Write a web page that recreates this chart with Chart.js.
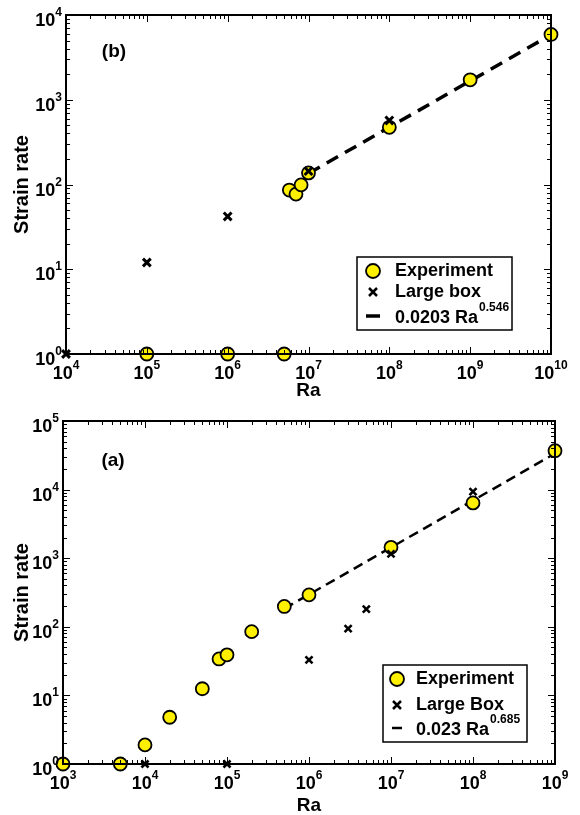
<!DOCTYPE html>
<html>
<head>
<meta charset="utf-8">
<script src="https://cdn.jsdelivr.net/npm/chart.js@4.4.0/dist/chart.umd.min.js"></script>
<style>
  body { margin: 0; background: #fff; }
  canvas { display: block; }
</style>
</head>
<body>
<canvas id="chartB" width="580" height="405"></canvas>
<canvas id="chartA" width="580" height="410"></canvas>
<script>
// panel (b)
const expRaB = [1e5, 1e6, 5e6, 5.8e6, 7.0e6, 8.1e6, 1e7, 1e8, 1e9, 1e10];
const expRateB = [1, 1, 1, 86, 77, 99, 137, 473, 1720, 5900];
const boxRaB = [1e4, 1e5, 1e6, 1e7, 1e8];
const boxRateB = [1, 12, 42, 144, 570];
const fitRaB = [1e7, 1e10];
const fitRateB = [135, 5850];

// panel (a)
const expRaA = [1e3, 5e3, 1e4, 2e4, 5e4, 8e4, 1e5, 2e5, 5e5, 1e6, 1e7, 1e8, 1e9];
const expRateA = [1, 1, 1.9, 4.8, 12.5, 34, 39, 85, 198, 292, 1440, 6400, 36900];
const boxRaA = [1e4, 1e5, 1e6, 3e6, 5e6, 1e7, 1e8];
const boxRateA = [1, 1, 33, 94, 181, 1155, 9340];
const fitRaA = [5e5, 1e9];
const fitRateA = [184, 33600];

const FONT = '"Liberation Sans", Arial, Helvetica, sans-serif';
const YELLOW = '#fff000';

const toXY = (xs, ys) => xs.map((x, i) => ({ x: x, y: ys[i] }));

function drawPow(ctx, exp, x, y, align) {
  ctx.font = 'bold 18px ' + FONT;
  const w1 = ctx.measureText('10').width;
  ctx.font = 'bold 12px ' + FONT;
  const w2 = ctx.measureText(String(exp)).width;
  const x0 = align === 'center' ? x - (w1 + w2) / 2 : x - w1 - w2;
  ctx.textAlign = 'left';
  ctx.textBaseline = 'alphabetic';
  ctx.font = 'bold 18px ' + FONT;
  ctx.fillText('10', x0, y);
  ctx.font = 'bold 12px ' + FONT;
  ctx.fillText(String(exp), x0 + w1, y - 10);
}

const framePlugin = {
  id: 'frame',
  afterDatasetsDraw(chart, args, o) {
    const { ctx, chartArea: a, scales: { x, y } } = chart;
    ctx.save();
    ctx.strokeStyle = '#000';
    ctx.fillStyle = '#000';

    // inward ticks on all four sides, drawn over the marks
    ctx.lineWidth = 1;
    ctx.beginPath();
    for (let e = Math.log10(x.min); e < Math.log10(x.max) + 0.5; e++) {
      for (let k = 1; k <= 9; k++) {
        const v = k * Math.pow(10, e);
        if (v < x.min * 0.999 || v > x.max * 1.001) continue;
        const px = Math.round(x.getPixelForValue(v)) + 0.5;
        const len = k === 1 ? 7 : 4;
        ctx.moveTo(px, a.bottom); ctx.lineTo(px, a.bottom - len);
        ctx.moveTo(px, a.top); ctx.lineTo(px, a.top + len);
      }
    }
    for (let e = Math.log10(y.min); e < Math.log10(y.max) + 0.5; e++) {
      for (let k = 1; k <= 9; k++) {
        const v = k * Math.pow(10, e);
        if (v < y.min * 0.999 || v > y.max * 1.001) continue;
        const py = Math.round(y.getPixelForValue(v)) + 0.5;
        const len = k === 1 ? 7 : 4;
        ctx.moveTo(a.left, py); ctx.lineTo(a.left + len, py);
        ctx.moveTo(a.right, py); ctx.lineTo(a.right - len, py);
      }
    }
    ctx.stroke();

    ctx.lineWidth = 2;
    ctx.strokeRect(a.left, a.top, a.width, a.height);

    // tick labels
    for (let e = Math.round(Math.log10(x.min)); e <= Math.round(Math.log10(x.max)); e++) {
      drawPow(ctx, e, x.getPixelForValue(Math.pow(10, e)), a.bottom + 25, 'center');
    }
    for (let e = Math.round(Math.log10(y.min)); e <= Math.round(Math.log10(y.max)); e++) {
      drawPow(ctx, e, a.left - 4, y.getPixelForValue(Math.pow(10, e)) + 11, 'right');
    }

    // axis titles
    ctx.font = 'bold 19px ' + FONT;
    ctx.textAlign = 'center';
    ctx.textBaseline = 'alphabetic';
    ctx.fillText('Ra', (a.left + a.right) / 2, o.raBase);
    ctx.save();
    ctx.translate(o.yTitleX, (a.top + a.bottom) / 2);
    ctx.rotate(-Math.PI / 2);
    ctx.textBaseline = 'middle';
    ctx.font = 'bold 20px ' + FONT;
    ctx.fillText('Strain rate', 0, 0);
    ctx.restore();

    // panel label
    ctx.font = 'bold 19px ' + FONT;
    ctx.textBaseline = 'middle';
    ctx.fillText(o.panel, o.panelX, o.panelY);

    // legend box
    const L = o.legend;
    ctx.fillStyle = '#fff';
    ctx.fillRect(L.x, L.y, L.w, L.h);
    ctx.lineWidth = 1.5;
    ctx.strokeRect(L.x, L.y, L.w, L.h);
    ctx.fillStyle = '#000';

    const sx = L.x + L.symX;
    const tx = L.x + L.textX;
    // circle
    ctx.beginPath();
    ctx.arc(sx, L.y + L.rows[0], 7, 0, Math.PI * 2);
    ctx.fillStyle = YELLOW; ctx.fill();
    ctx.lineWidth = 1.8; ctx.stroke();
    // cross
    const cy = L.y + L.rows[1];
    ctx.lineWidth = 2.5;
    ctx.beginPath();
    ctx.moveTo(sx - 4, cy - 4); ctx.lineTo(sx + 4, cy + 4);
    ctx.moveTo(sx + 4, cy - 4); ctx.lineTo(sx - 4, cy + 4);
    ctx.stroke();
    // dash
    const dy = L.y + L.rows[2];
    ctx.lineWidth = L.dashW;
    ctx.beginPath();
    ctx.moveTo(sx - L.dashLen / 2, dy); ctx.lineTo(sx + L.dashLen / 2, dy);
    ctx.stroke();

    ctx.fillStyle = '#000';
    ctx.font = 'bold 18px ' + FONT;
    ctx.textAlign = 'left';
    ctx.textBaseline = 'middle';
    ctx.fillText(L.labels[0], tx, L.y + L.rows[0]);
    ctx.fillText(L.labels[1], tx, L.y + L.rows[1]);
    ctx.fillText(L.labels[2], tx, L.y + L.rows[2] + 2);
    const w = ctx.measureText(L.labels[2]).width;
    ctx.font = 'bold 12px ' + FONT;
    ctx.fillText(L.sup, tx + w + 1, L.y + L.rows[2] - 8);

    ctx.restore();
  }
};

function makeChart(id, c) {
  const canvas = document.getElementById(id);
  return new Chart(canvas, {
    type: 'scatter',
    data: {
      datasets: [
        {
          label: c.legend.labels[1],
          data: toXY(c.boxRa, c.boxRate),
          pointStyle: 'crossRot',
          pointRadius: c.crossR,
          borderColor: '#000',
          borderWidth: c.crossW,
          clip: false
        },
        {
          label: c.legend.labels[0],
          data: toXY(c.expRa, c.expRate),
          pointStyle: 'circle',
          pointRadius: 6.5,
          backgroundColor: YELLOW,
          borderColor: '#000',
          borderWidth: 1.8,
          clip: false
        },
        {
          label: 'fit',
          data: toXY(c.fitRa, c.fitRate),
          showLine: true,
          pointRadius: 0,
          borderColor: '#000',
          borderWidth: c.fitW,
          borderDash: c.fitDash,
          fill: false,
          clip: false
        }
      ]
    },
    options: {
      responsive: false,
      animation: false,
      devicePixelRatio: 1,
      layout: { padding: c.pad },
      scales: {
        x: { type: 'logarithmic', min: c.xMin, max: c.xMax, display: false },
        y: { type: 'logarithmic', min: c.yMin, max: c.yMax, display: false }
      },
      plugins: {
        legend: { display: false },
        tooltip: { enabled: false },
        frame: {
          raBase: c.raBase,
          yTitleX: c.yTitleX,
          panel: c.panel,
          panelX: c.panelX,
          panelY: c.panelY,
          legend: c.legend
        }
      }
    },
    plugins: [framePlugin]
  });
}

makeChart('chartB', {
  expRa: expRaB, expRate: expRateB,
  boxRa: boxRaB, boxRate: boxRateB,
  fitRa: fitRaB, fitRate: fitRateB,
  xMin: 1e4, xMax: 1e10, yMin: 1, yMax: 1e4,
  pad: { left: 66, top: 15, right: 29, bottom: 51 },
  crossR: 5.5, crossW: 3,
  fitW: 3.5, fitDash: [13, 8],
  raBase: 396, yTitleX: 22,
  panel: '(b)', panelX: 114, panelY: 52,
  legend: {
    x: 357, y: 257, w: 155, h: 73,
    symX: 16, textX: 38,
    rows: [14, 35, 59],
    dashW: 3.5, dashLen: 14,
    labels: ['Experiment', 'Large box', '0.0203 Ra'],
    sup: '0.546'
  }
});

makeChart('chartA', {
  expRa: expRaA, expRate: expRateA,
  boxRa: boxRaA, boxRate: boxRateA,
  fitRa: fitRaA, fitRate: fitRateA,
  xMin: 1e3, xMax: 1e9, yMin: 1, yMax: 1e5,
  pad: { left: 63, top: 16, right: 25, bottom: 51 },
  crossR: 5, crossW: 2.6,
  fitW: 2.5, fitDash: [10, 6],
  raBase: 406, yTitleX: 22,
  panel: '(a)', panelX: 113, panelY: 56,
  legend: {
    x: 383, y: 260, w: 144, h: 77,
    symX: 14, textX: 33,
    rows: [14, 40, 63],
    dashW: 2.5, dashLen: 10,
    labels: ['Experiment', 'Large Box', '0.023 Ra'],
    sup: '0.685'
  }
});
</script>
</body>
</html>
